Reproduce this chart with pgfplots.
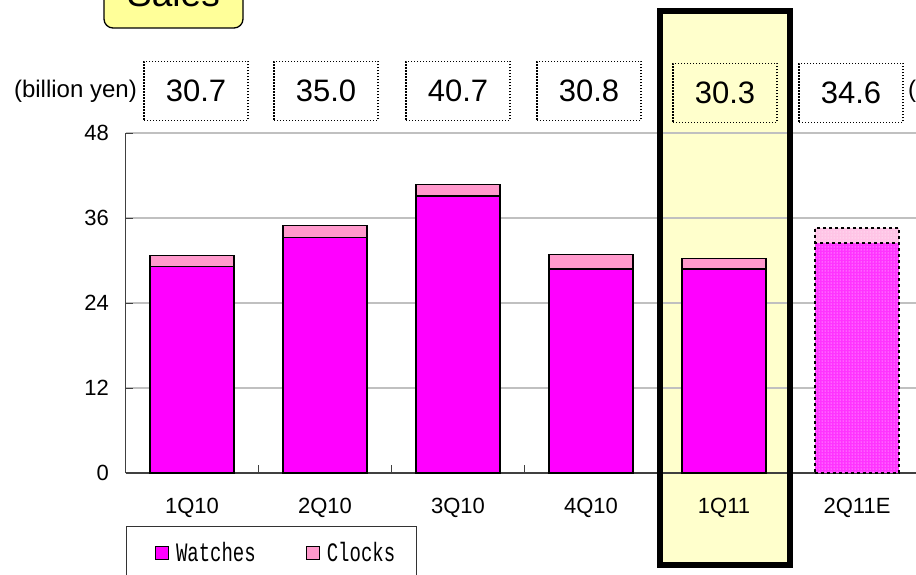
\documentclass[border=0pt]{standalone}
\usepackage{graphicx}
\usepackage{fontspec}
\setmainfont{Liberation Sans}
\newfontfamily\legfont{Liberation Mono}
\usepackage{pgfplots}
\pgfplotsset{compat=1.18}
\usetikzlibrary{patterns}
\definecolor{watch}{HTML}{FF00FF}
\definecolor{clock}{HTML}{FF99CC}
\definecolor{watchE}{HTML}{FF33FF}
\definecolor{clockE}{HTML}{FFC4E6}
\definecolor{hl}{HTML}{FFFFCC}
\definecolor{salesbox}{HTML}{FFFF99}
\definecolor{gridgray}{HTML}{C0C0C0}
\newcommand{\leg}[1]{\scalebox{1}[1.4]{#1}}
\begin{document}
\begin{tikzpicture}[x=1pt,y=1pt]
\useasboundingbox (0,0) rectangle (916,574);
% Sales title box
\draw[fill=salesbox, rounded corners=9pt, line width=1.3pt] (104,546) rectangle (243,610);
\node[font=\fontsize{37}{44}\selectfont, anchor=base, inner sep=0pt] at (173.5,567) {Sales};
% highlight background
\fill[hl] (660,9) rectangle (790,563);
\begin{axis}[
  at={(125.5pt,101pt)}, anchor=south west,
  scale only axis, width=798pt, height=340pt,
  xmin=-0.5, xmax=5.5, ymin=0, ymax=48,
  clip=false,
  ybar, bar width=84pt, bar shift=0pt,
  axis x line*=bottom, axis y line*=left,
  axis line style={draw=black!75, line width=1.2pt},
  ytick={0,12,24,36,48},
  yticklabel={\pgfmathprintnumber{\tick}\hspace*{13pt}},
  xtick={0,1,2,3,4,5},
  xticklabels={1Q10,2Q10,3Q10,4Q10,1Q11,2Q11E},
  minor xtick={0.5,1.5,2.5,3.5,4.5,5.5},
  tick align=inside,
  major tick length=7pt, minor tick length=8pt,
  major x tick style={draw=none},
  every tick/.style={draw=black!75, line width=1pt},
  ymajorgrids, major grid style={draw=gridgray, line width=1.2pt},
  /pgf/number format/assume math mode=true,
  tick label style={font=\fontsize{22}{26}\selectfont},
  xticklabel style={anchor=base, yshift=-40pt},
  legend columns=2,
  legend image code/.code={\path (0pt,0pt); \draw[#1, draw=black, line width=1pt] (10pt,-6.5pt) rectangle (23pt,6.5pt);},
  legend style={at={(0,0)}, anchor=north west, yshift=-53pt,
    draw=black!80, line width=1pt,
    font=\legfont\fontsize{19}{22}\selectfont,
    inner xsep=19pt, inner ysep=14pt,
    /tikz/every odd column/.append style={column sep=5pt},
    /tikz/every even column/.append style={column sep=38pt}},
  legend entries={\leg{Watches},\leg{Clocks}},
]
\addlegendimage{fill=watch}
\addlegendimage{fill=clock}
% totals (watches + clocks)
\addplot[fill=clock, draw=black, line width=1.1pt, forget plot]
  coordinates {(0,30.7) (1,35.0) (2,40.7) (3,30.8) (4,30.3)};
% watches
\addplot[fill=watch, draw=black, line width=1.1pt, forget plot]
  coordinates {(0,29.2) (1,33.3) (2,39.1) (3,28.8) (4,28.8)};
% forecast
\addplot[fill=clockE, draw=black, line width=1.8pt, dash pattern=on 3pt off 3pt,
  postaction={pattern=dots, pattern color=white}, forget plot]
  coordinates {(5,34.6)};
\addplot[fill=watchE, draw=black, line width=1.8pt, dash pattern=on 3pt off 3pt,
  postaction={pattern=dots, pattern color=white}, forget plot]
  coordinates {(5,32.5)};
% value boxes
\tikzset{vbox/.style={draw=black, line width=1.3pt, dash pattern=on 1.3pt off 1.7pt,
  minimum width=104pt, minimum height=59pt, inner sep=0pt,
  font=\fontsize{31}{36}\selectfont}}
\node[vbox, xshift=4pt] at (axis cs:0,53.93) {30.7};
\node[vbox, xshift=1pt] at (axis cs:1,53.93) {35.0};
\node[vbox] at (axis cs:2,53.93) {40.7};
\node[vbox, xshift=-2pt] at (axis cs:3,53.93) {30.8};
\node[vbox, xshift=1pt] at (axis cs:4,53.65) {30.3};
\node[vbox, xshift=-6pt] at (axis cs:5,53.65) {34.6};
\end{axis}
\node[font=\fontsize{24}{28}\selectfont, anchor=base east, inner sep=0pt] at (137,476.5) {(billion yen)};
\node[font=\fontsize{24}{28}\selectfont, anchor=base west, inner sep=0pt] at (908,476.5) {(};
% highlight frame
\draw[line width=6pt] (660,9) rectangle (790,563);
\end{tikzpicture}
\end{document}
